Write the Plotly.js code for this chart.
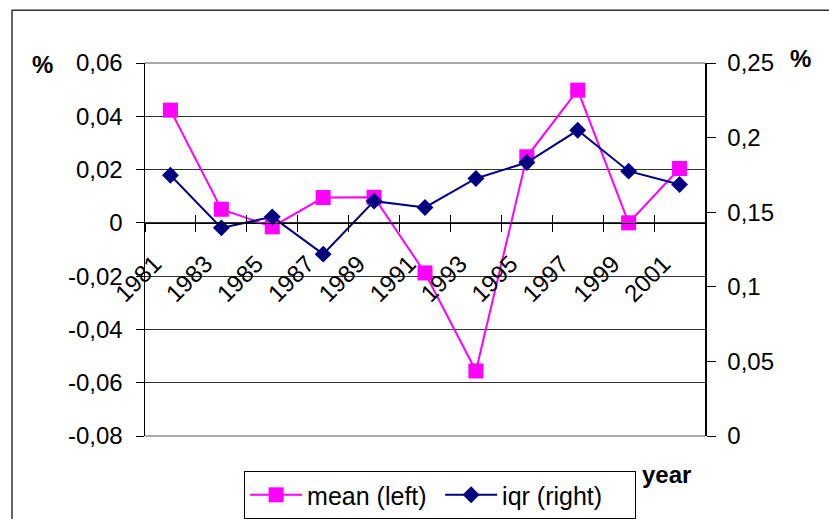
<!DOCTYPE html>
<html>
<head>
<meta charset="utf-8">
<script src="https://cdn.plot.ly/plotly-3.0.1.min.js"></script>
<style>
  html, body { margin: 0; padding: 0; background: #fff; }
  #chart { width: 829px; height: 519px; }
</style>
</head>
<body>
<div id="chart"></div>
<script>
const years = ['1981','1983','1985','1987','1989','1991','1993','1995','1997','1999','2001'];
const meanLeft = [0.0423, 0.0051, -0.0015, 0.0095, 0.0096, -0.0188, -0.0556, 0.0248, 0.0498, 0.0000, 0.0204];
const iqrRight = [0.1748, 0.1395, 0.1469, 0.1219, 0.1574, 0.1532, 0.1726, 0.1833, 0.2049, 0.1775, 0.1686];

const leftTickVals = [-0.08, -0.06, -0.04, -0.02, 0, 0.02, 0.04, 0.06];
const leftTickText = ['-0,08', '-0,06', '-0,04', '-0,02', '0', '0,02', '0,04', '0,06'];
const rightTickVals = [0, 0.05, 0.1, 0.15, 0.2, 0.25];
const rightTickText = ['0', '0,05', '0,1', '0,15', '0,2', '0,25'];

const leftRange = [-0.08, 0.06];
const rightRange = [0, 0.25];
const zeroPos = (0 - leftRange[0]) / (leftRange[1] - leftRange[0]);

const FONT = 'Liberation Sans, Arial, sans-serif';

const traces = [
  {
    x: years, y: meanLeft, name: 'mean (left)', type: 'scatter', mode: 'lines+markers',
    xaxis: 'x', yaxis: 'y',
    line: { color: '#FF00FF', width: 2 },
    marker: { symbol: 'square', size: 15, color: '#FF00FF' }
  },
  {
    x: years, y: iqrRight, name: 'iqr (right)', type: 'scatter', mode: 'lines+markers',
    xaxis: 'x', yaxis: 'y2',
    line: { color: '#000080', width: 2 },
    marker: { symbol: 'diamond', size: 13, color: '#000080' }
  },
  {
    x: years, y: meanLeft, type: 'scatter', mode: 'lines', xaxis: 'x2', yaxis: 'y',
    opacity: 0, showlegend: false, hoverinfo: 'skip'
  }
];

const layout = {
  width: 829, height: 519,
  margin: { l: 145, r: 124, t: 63, b: 83, autoexpand: false },
  paper_bgcolor: '#fff', plot_bgcolor: '#fff',
  font: { family: FONT, size: 24, color: '#000' },
  showlegend: true,
  legend: {
    orientation: 'h', x: 0.177, y: -0.094, xanchor: 'left', yanchor: 'top',
    bordercolor: '#000', borderwidth: 1, bgcolor: '#fff',
    font: { family: FONT, size: 25, color: '#000' },
    itemwidth: 52, entrywidth: 128
  },
  xaxis: {
    type: 'category', range: [-0.5, 10.5], anchor: 'free', position: zeroPos,
    showline: true, linecolor: '#000', linewidth: 1.5,
    showgrid: false, zeroline: false,
    tickson: 'boundaries', ticks: 'outside', ticklen: 8, tickcolor: '#000', tickwidth: 1,
    tickangle: -45, ticklabelstandoff: 16, ticklabelshift: -16,
    tickfont: { family: FONT, size: 24, color: '#000' }
  },
  xaxis2: {
    type: 'category', range: [-0.5, 10.5], overlaying: 'x', anchor: 'free', position: zeroPos,
    showline: false, showgrid: false, zeroline: false,
    tickson: 'boundaries', ticks: 'inside', ticklen: 8, tickcolor: '#000', tickwidth: 1,
    showticklabels: false
  },
  yaxis: {
    range: leftRange, tickvals: leftTickVals, ticktext: leftTickText,
    showline: true, linecolor: '#000', linewidth: 1.5,
    showgrid: true, gridcolor: '#333', gridwidth: 1, zeroline: false,
    ticks: 'outside', ticklen: 8, tickcolor: '#000', ticklabelstandoff: 8,
    tickfont: { family: FONT, size: 24, color: '#000' }
  },
  yaxis2: {
    range: rightRange, tickvals: rightTickVals, ticktext: rightTickText,
    overlaying: 'y', side: 'right', anchor: 'x',
    showline: true, linecolor: '#000', linewidth: 1.5,
    showgrid: false, zeroline: false,
    ticks: 'outside', ticklen: 9, tickcolor: '#000', ticklabelstandoff: 7,
    tickfont: { family: FONT, size: 24, color: '#000' }
  },
  annotations: [
    { text: '<b>%</b>', xref: 'paper', yref: 'paper', x: -0.183, y: 0.995, xanchor: 'center', yanchor: 'middle', showarrow: false, font: { family: FONT, size: 24, color: '#000' } },
    { text: '<b>%</b>', xref: 'paper', yref: 'paper', x: 1.171, y: 1.011, xanchor: 'center', yanchor: 'middle', showarrow: false, font: { family: FONT, size: 24, color: '#000' } },
    { text: '<b>year</b>', xref: 'paper', yref: 'paper', x: 0.932, y: -0.102, xanchor: 'center', yanchor: 'middle', showarrow: false, font: { family: FONT, size: 24, color: '#000' } }
  ],
  shapes: [
    { type: 'rect', xref: 'paper', yref: 'paper', x0: -0.2375, x1: 1.3, y0: -0.3, y1: 1.1413,
      line: { color: '#333', width: 1.5 }, fillcolor: 'rgba(0,0,0,0)', layer: 'below' },
    { type: 'line', xref: 'paper', yref: 'paper', x0: 0, x1: 1, y0: 0, y1: 0,
      line: { color: '#555', width: 1 }, layer: 'below' },
    { type: 'line', xref: 'paper', yref: 'paper', x0: 0, x1: 1, y0: 1, y1: 1,
      line: { color: '#555', width: 1 }, layer: 'below' }
  ]
};

Plotly.newPlot('chart', traces, layout, { displayModeBar: false, staticPlot: true });
</script>
</body>
</html>
